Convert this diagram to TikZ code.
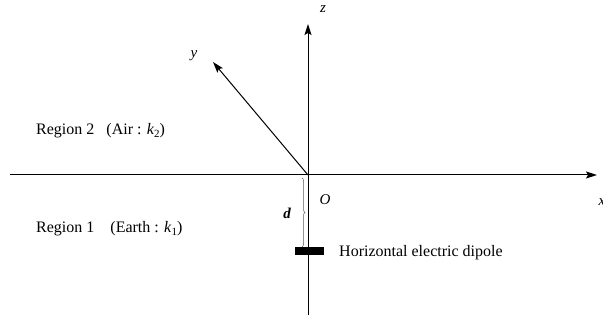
\documentclass[tikz,border=0pt]{standalone}
\usepackage{fontspec}
\setmainfont{Liberation Serif}
\usetikzlibrary{arrows.meta,decorations.pathreplacing}
\newcommand{\kk}[1]{\textit{k}\raisebox{-0.35ex}{\fontsize{11}{12}\selectfont #1}}
\begin{document}
\begin{tikzpicture}[x=1pt,y=-1pt,
  axis/.style={line width=1pt,-{Stealth[length=11pt,width=7pt,inset=2pt]}},
  lbl/.style={inner sep=0pt,font=\fontsize{16}{18}\selectfont},
  ax/.style={inner sep=0pt,font=\fontsize{15}{18}\selectfont\itshape}]
\useasboundingbox (0,0) rectangle (603,320);
\coordinate (O) at (308,175);
\coordinate (xl) at (10,175);
\coordinate (xr) at (597,175);
\coordinate (zb) at (308,315);
\coordinate (zt) at (308,24);
\coordinate (ye) at (213,62);
\draw[line width=1pt] (xl) -- (O);
\draw[axis] (O) -- (xr);
\draw[line width=1pt] (zb) -- (O);
\draw[axis] (O) -- (zt);
\draw[axis] (O) -- (ye);
\node[ax] (xlab) at (602,202) {x};
\node[ax] (zlab) at (323,9) {z};
\node[ax] (ylab) at (194,56) {y};
\node[ax] (Olab) at (325,200) {O};
\node[lbl,font=\fontsize{15}{18}\selectfont\bfseries\itshape] (dlab) at (287,213) {d};
\node[draw=black,fill=black,minimum width=28pt,minimum height=7pt,inner sep=0pt] (dip) at (309,251) {};
\coordinate (bt) at (302,178);
\coordinate (bb) at (302,247);
\draw[gray!70!black,line width=0.5pt,decorate,decoration={brace,amplitude=3pt}] (bt) -- (bb);
\node[lbl,anchor=west] (hed) at (339,253) {Horizontal electric dipole};
\node[lbl,anchor=west] (r2) at (36,131) {Region 2\ \ \ (Air : \kk{2})};
\node[lbl,anchor=west] (r1) at (36,229) {Region 1\ \ \ \ (Earth : \kk{1})};
\end{tikzpicture}
\end{document}
